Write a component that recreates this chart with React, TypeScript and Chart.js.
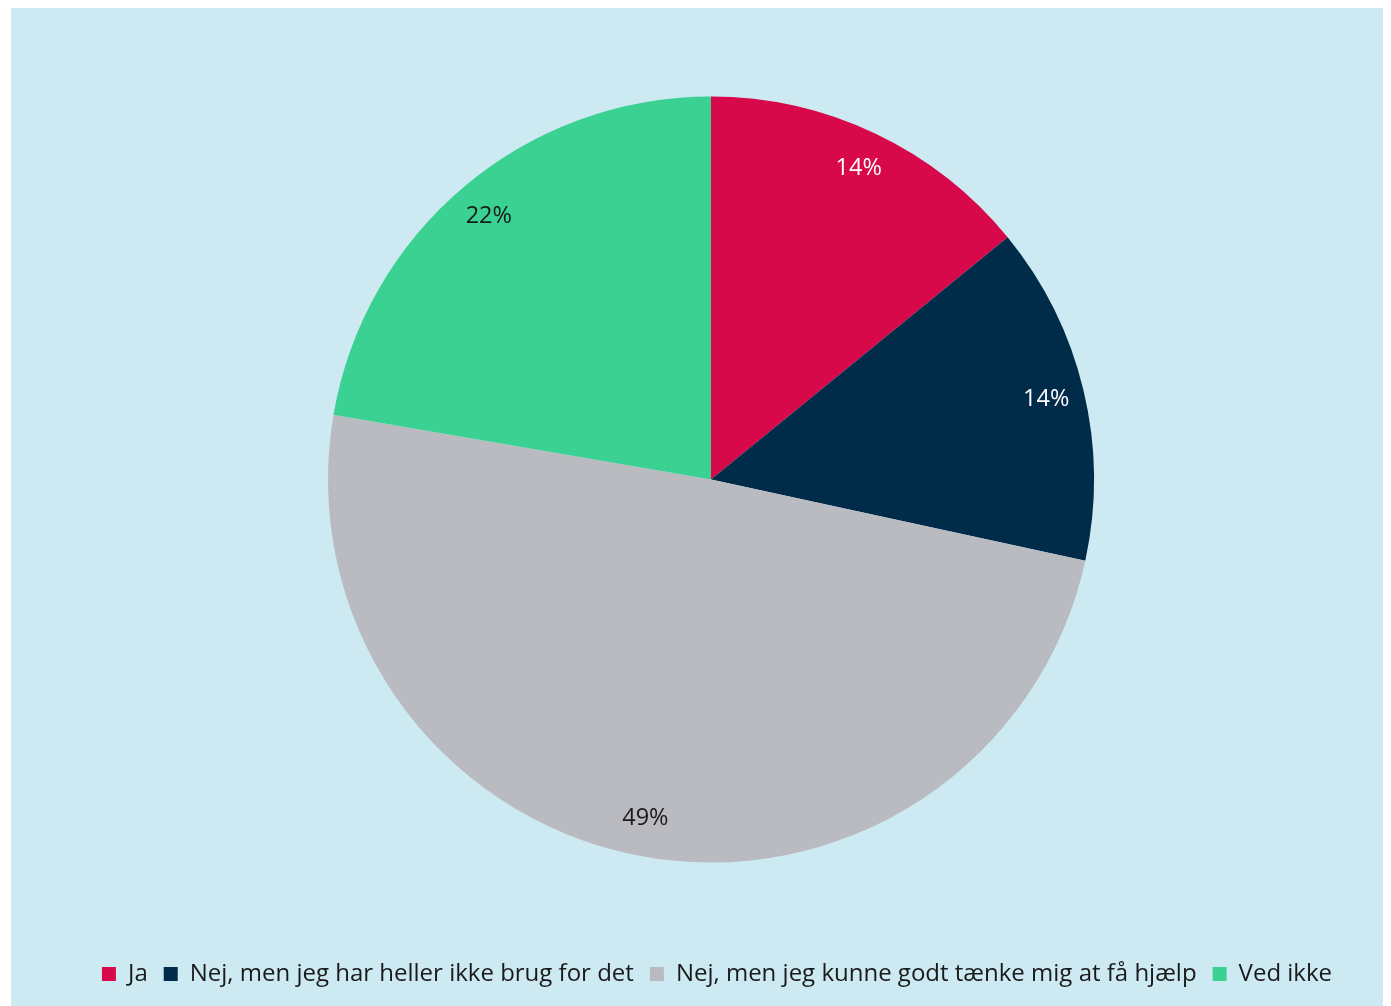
import React, { useEffect, useRef } from "react";
import { Chart, registerables } from "chart.js";

Chart.register(...registerables);

const categories = [
  "Ja",
  "Nej, men jeg har heller ikke brug for det",
  "Nej, men jeg kunne godt tænke mig at få hjælp",
  "Ved ikke",
];
const values = [14.1, 14.3, 49.3, 22.3];
const colors = ["#d8094a", "#002c4a", "#babbc0", "#3ad192"];
const labelColors = ["#ffffff", "#ffffff", "#1a1a1a", "#1a1a1a"];

const FONT = "'Open Sans', 'Noto Sans', sans-serif";

const pieLabels = {
  id: "pieLabels",
  afterDatasetsDraw(chart: any) {
    const { ctx } = chart;
    const meta = chart.getDatasetMeta(0);
    ctx.save();
    ctx.font = `23.5px ${FONT}`;
    ctx.textAlign = "center";
    ctx.textBaseline = "middle";
    meta.data.forEach((arc: any, i: number) => {
      const { x, y, startAngle, endAngle, outerRadius } = arc.getProps(
        ["x", "y", "startAngle", "endAngle", "outerRadius"],
        true
      );
      const mid = (startAngle + endAngle) / 2;
      const r = outerRadius * 0.9;
      ctx.fillStyle = labelColors[i];
      ctx.fillText(
        `${Math.round(values[i])}%`,
        x + Math.cos(mid) * r,
        y + Math.sin(mid) * r
      );
    });
    ctx.restore();
  },
};

const legendShift = {
  id: "legendShift",
  afterLayout(chart: any) {
    if (chart.legend) {
      chart.legend.left += 6;
      chart.legend.right += 6;
    }
  },
};

export default function App() {
  const ref = useRef<HTMLCanvasElement>(null);
  useEffect(() => {
    document.body.style.overflow = "hidden";
    const chart = new Chart(ref.current!, {
      type: "pie",
      data: {
        labels: categories,
        datasets: [
          {
            data: values,
            backgroundColor: colors,
            borderWidth: 0,
            radius: 383,
          } as any,
        ],
      },
      options: {
        animation: false,
        responsive: true,
        maintainAspectRatio: false,
        layout: { padding: { top: 5, left: 20, bottom: 10 } },
        plugins: {
          tooltip: { enabled: false },
          legend: {
            position: "bottom",
            labels: {
              boxWidth: 14,
              boxHeight: 14,
              padding: 16,
              color: "#1a1a1a",
              font: { family: FONT, size: 24 },
            },
          },
        },
      },
      plugins: [pieLabels, legendShift],
    });
    return () => chart.destroy();
  }, []);
  return (
    <div
      style={{
        marginLeft: 3,
        width: 1380,
        height: 998,
        background: "#cdeaf3",
        position: "relative",
      }}
    >
      <canvas ref={ref} />
    </div>
  );
}
